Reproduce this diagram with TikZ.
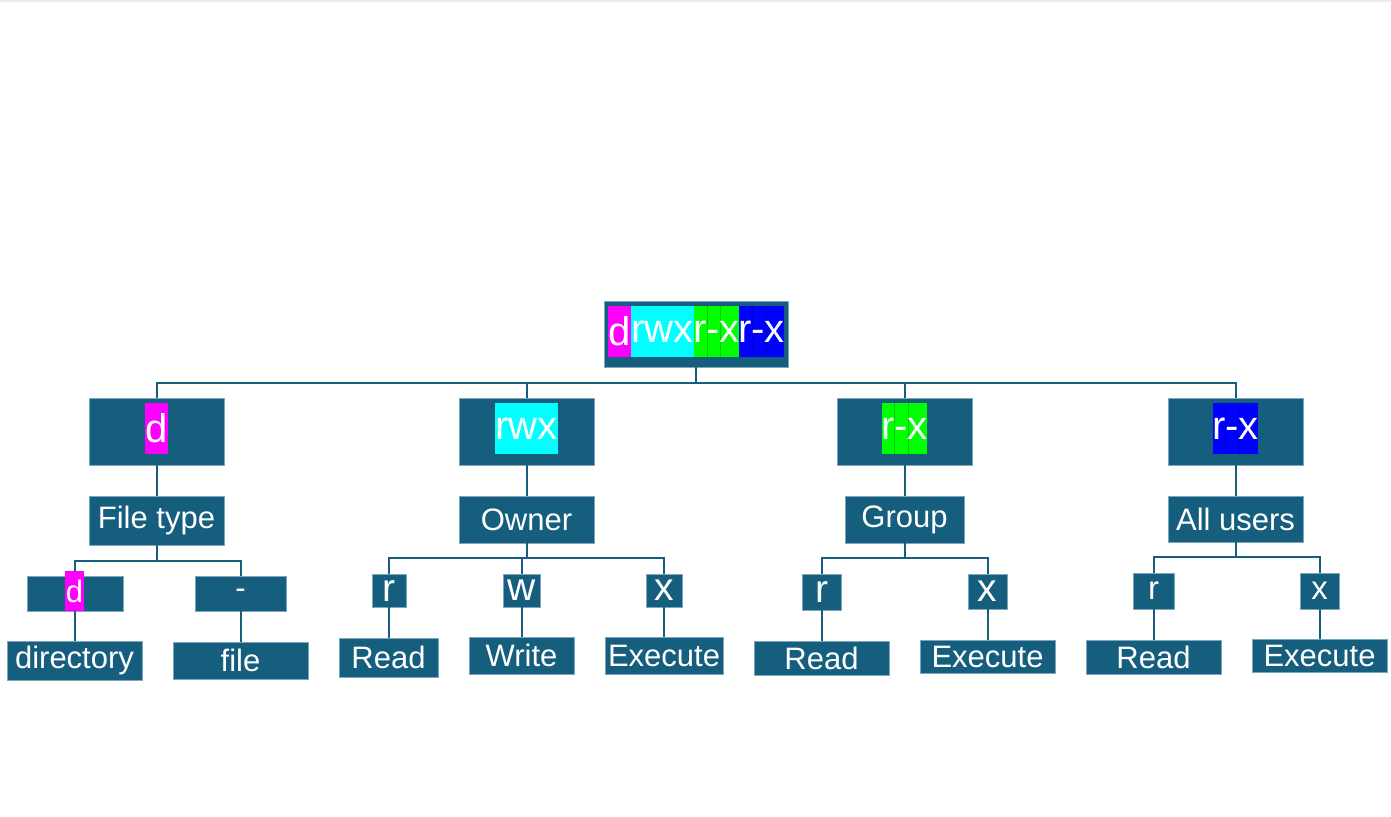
\documentclass[tikz,border=0pt]{standalone}
\usepackage{fontspec}
\setmainfont{Liberation Sans}
\definecolor{tealbox}{RGB}{22,94,126}
\definecolor{boxedge}{RGB}{125,165,190}
\definecolor{hlmag}{RGB}{255,0,255}
\definecolor{hlcyan}{RGB}{0,255,255}
\definecolor{hlgreen}{RGB}{0,255,0}
\definecolor{hlblue}{RGB}{0,0,255}
\definecolor{divgreen}{RGB}{0,205,0}
\definecolor{divblue}{RGB}{0,0,205}
\newcommand\fbig{\fontsize{40}{48}\selectfont}
\newcommand\fmid{\fontsize{31}{37}\selectfont}
\newcommand\flet{\fontsize{39}{46}\selectfont}
\newcommand\fsml{\fontsize{33}{39}\selectfont}
\newcommand\fdd{\fontsize{31}{37}\selectfont}
\begin{document}
\begin{tikzpicture}[x=1pt,y=-1pt,
  box/.style={draw=boxedge,line width=0.8pt,fill=tealbox,text=white,inner sep=0pt},
  hl/.style={inner sep=0pt,text=white},
  conn/.style={draw=tealbox,line width=2pt},
  divline/.style={line width=0.6pt}]
\useasboundingbox (0,0) rectangle (1391,816);
\draw[black!8,line width=1.5pt] (0,1) -- (1391,1);

% root
\node[box,minimum width=184pt,minimum height=66pt] (root) at (696,334) {};
\node[hl,fill=hlmag,minimum width=23pt,minimum height=51pt,font=\fbig] (rd) at (619.5,331.5) {d};
\node[hl,fill=hlcyan,minimum width=63pt,minimum height=51pt,font=\fbig] (rc) at (662.5,331.5) {rwx};
\node[hl,fill=hlgreen,minimum width=45pt,minimum height=51pt,font=\fbig] (rg) at (716.5,331.5) {};
\node[hl,fill=hlblue,minimum width=45pt,minimum height=51pt,font=\fbig] (rb) at (761.5,331.5) {};
\draw[divline,divgreen] (707,306) -- (707,357) (720,306) -- (720,357);
\draw[divline,divblue] (752,306) -- (752,357) (766,306) -- (766,357);
\node[hl,font=\fbig] at (rg) {r-x};
\node[hl,font=\fbig] at (rb) {r-x};

% level 2
\node[box,minimum width=135pt,minimum height=67pt] (n1) at (156.5,431.5) {};
\node[hl,fill=hlmag,minimum width=23pt,minimum height=51pt,font=\fbig] (n1h) at (156.5,428.5) {d};
\node[box,minimum width=135pt,minimum height=67pt] (n2) at (526.5,431.5) {};
\node[hl,fill=hlcyan,minimum width=63pt,minimum height=51pt,font=\fbig] (n2h) at (526.5,428.5) {rwx};
\node[box,minimum width=135pt,minimum height=67pt] (n3) at (904.5,431.5) {};
\node[hl,fill=hlgreen,minimum width=45pt,minimum height=51pt] (n3h) at (904.5,428.5) {};
\draw[divline,divgreen] (894,403) -- (894,454) (908,403) -- (908,454);
\node[hl,font=\fbig] at (n3h) {r-x};
\node[box,minimum width=135pt,minimum height=67pt] (n4) at (1235.5,431.5) {};
\node[hl,fill=hlblue,minimum width=45pt,minimum height=51pt] (n4h) at (1235.5,428.5) {};
\draw[divline,divblue] (1225,403) -- (1225,454) (1239,403) -- (1239,454);
\node[hl,font=\fbig] at (n4h) {r-x};

% level 3
\node[box,minimum width=135pt,minimum height=49pt,font=\fmid] (ft) at (156.5,520.5) {File type};
\node[box,minimum width=135pt,minimum height=47pt,font=\fmid] (ow) at (526.5,519.5) {Owner};
\node[box,minimum width=119pt,minimum height=47pt,font=\fmid] (gp) at (904.5,519.5) {Group};
\node[box,minimum width=135pt,minimum height=46pt,font=\fmid] (au) at (1235.5,519) {All users};

% level 4
\node[box,minimum width=96pt,minimum height=35pt] (dd) at (75,593.5) {};
\node[hl,fill=hlmag,minimum width=19pt,minimum height=40pt,font=\fdd] (ddh) at (74.5,591) {d};
\node[box,minimum width=91pt,minimum height=35pt,font=\fmid] (fd) at (240.5,593.5) {-};
\node[box,minimum width=34pt,minimum height=33pt,font=\flet] (or) at (389,590.5) {r};
\node[box,minimum width=37pt,minimum height=33pt,font=\flet] (ow2) at (521.5,590.5) {w};
\node[box,minimum width=36pt,minimum height=33pt,font=\flet] (ox) at (664,590.5) {x};
\node[box,minimum width=39pt,minimum height=36pt,font=\flet] (gr) at (821.5,592) {r};
\node[box,minimum width=39pt,minimum height=35pt,font=\flet] (gx) at (987.5,591.5) {x};
\node[box,minimum width=41pt,minimum height=36pt,font=\fsml] (ar) at (1153.5,591) {r};
\node[box,minimum width=39pt,minimum height=36pt,font=\fsml] (ax) at (1319.5,591) {x};

% level 5
\node[box,minimum width=135pt,minimum height=39pt,font=\fmid] (dir) at (74.5,660.5) {directory};
\node[box,minimum width=135pt,minimum height=37pt,font=\fmid] (fil) at (240.5,660.5) {file};
\node[box,minimum width=99pt,minimum height=39pt,font=\fmid] (ord) at (388.5,657.5) {Read};
\node[box,minimum width=105pt,minimum height=37pt,font=\fmid] (owr) at (521.5,655.5) {Write};
\node[box,minimum width=118pt,minimum height=37pt,font=\fmid] (oex) at (664,655.5) {Execute};
\node[box,minimum width=135pt,minimum height=34pt,font=\fmid] (grd) at (821.5,658) {Read};
\node[box,minimum width=135pt,minimum height=33pt,font=\fmid] (gex) at (987.5,656.5) {Execute};
\node[box,minimum width=135pt,minimum height=34pt,font=\fmid] (ard) at (1153.5,657) {Read};
\node[box,minimum width=135pt,minimum height=33pt,font=\fmid] (aex) at (1319.5,655.5) {Execute};

% connectors
\foreach \c in {n1,n2,n3,n4}{\draw[conn] (root.south) -- ++(0,16) -| (\c.north);}
\draw[conn] (n1.south) -- (ft.north);
\draw[conn] (n2.south) -- (ow.north);
\draw[conn] (n3.south) -- (gp.north);
\draw[conn] (n4.south) -- (au.north);
\foreach \c in {ddh,fd}{\draw[conn] (ft.south) -- ++(0,16) -| (\c.north);}
\foreach \c in {or,ow2,ox}{\draw[conn] (ow.south) -- ++(0,15) -| (\c.north);}
\foreach \c in {gr,gx}{\draw[conn] (gp.south) -- ++(0,15) -| (\c.north);}
\foreach \c in {ar,ax}{\draw[conn] (au.south) -- ++(0,15) -| (\c.north);}
\draw[conn] (dd.south) -- (dd.south |- dir.north);
\draw[conn] (fd.south) -- (fd.south |- fil.north);
\draw[conn] (or.south) -- (or.south |- ord.north);
\draw[conn] (ow2.south) -- (ow2.south |- owr.north);
\draw[conn] (ox.south) -- (ox.south |- oex.north);
\draw[conn] (gr.south) -- (gr.south |- grd.north);
\draw[conn] (gx.south) -- (gx.south |- gex.north);
\draw[conn] (ar.south) -- (ar.south |- ard.north);
\draw[conn] (ax.south) -- (ax.south |- aex.north);
\end{tikzpicture}
\end{document}
